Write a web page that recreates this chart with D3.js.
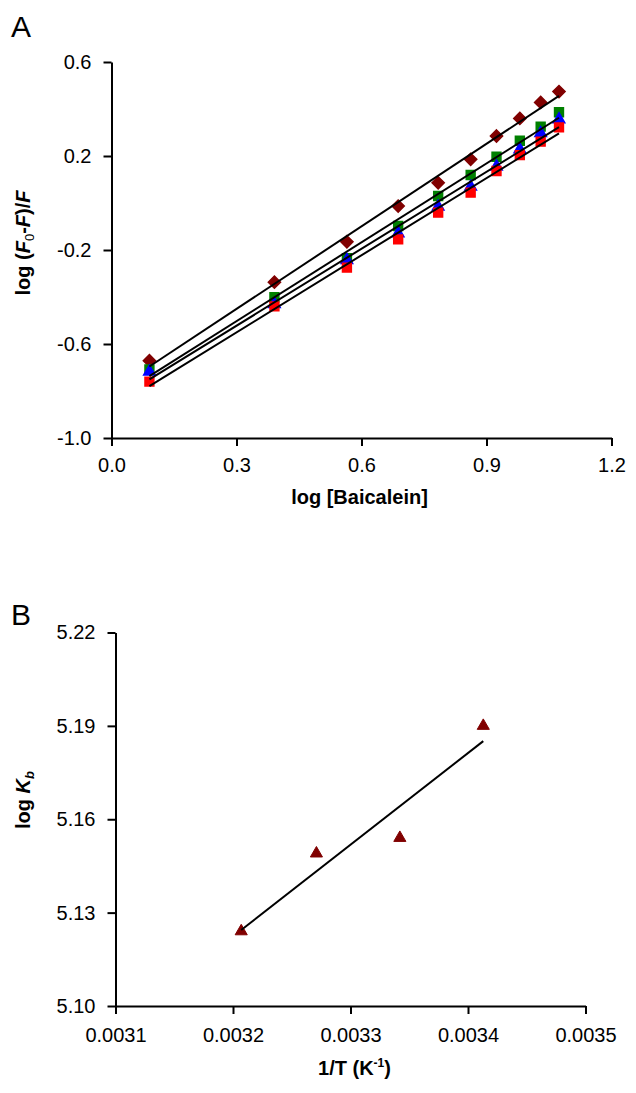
<!DOCTYPE html>
<html><head><meta charset="utf-8">
<script src="https://cdn.jsdelivr.net/npm/d3@7"></script>
<style>
html,body{margin:0;padding:0;background:#fff;}
svg{display:block;font-family:"Liberation Sans",Arial,sans-serif;}
</style></head>
<body><svg id="chart" width="636" height="1093"></svg>
<script>
// ---------- Panel A data ----------
const logBaicalein = [0.091,0.391,0.565,0.688,0.784,0.862,0.924,0.980,1.030,1.074];
const seriesDiamond = [-0.671,-0.337,-0.165,-0.013,0.086,0.186,0.285,0.360,0.428,0.474];
const seriesGreen   = [-0.708,-0.401,-0.235,-0.098,0.030,0.119,0.197,0.265,0.325,0.386];
const seriesBlue    = [-0.718,-0.430,-0.243,-0.129,-0.016,0.069,0.155,0.228,0.297,0.356];
const seriesRed     = [-0.760,-0.440,-0.275,-0.155,-0.041,0.044,0.136,0.204,0.261,0.322];
const xTicksA = [0.0,0.3,0.6,0.9,1.2];
const yTicksA = [-1.0,-0.6,-0.2,0.2,0.6];

// ---------- Panel B data ----------
const invT = [0.003207,0.003271,0.003342,0.003413];
const logKb = [5.124,5.149,5.154,5.190];
const xTicksB = [0.0031,0.0032,0.0033,0.0034,0.0035];
const yTicksB = [5.10,5.13,5.16,5.19,5.22];

const svg = d3.select("#chart");

function fit(xs, ys){
  const n = xs.length, mx = d3.mean(xs), my = d3.mean(ys);
  let sxy=0, sxx=0;
  for(let i=0;i<n;i++){sxy+=(xs[i]-mx)*(ys[i]-my); sxx+=(xs[i]-mx)**2;}
  const b = sxy/sxx, a = my-b*mx;
  const x0 = d3.min(xs), x1 = d3.max(xs);
  return [[x0,a+b*x0],[x1,a+b*x1]];
}
const fmt = p => d => d.toFixed(p);

function styleAxis(g){
  g.selectAll(".domain").attr("stroke","#000").attr("stroke-width",2);
  g.selectAll(".tick line").attr("stroke","#000").attr("stroke-width",2);
  g.selectAll(".tick text").attr("fill","#000").attr("font-size",20)
    .attr("font-family","'Liberation Sans',Arial,sans-serif");
}

// ================= Panel A =================
const xA = d3.scaleLinear().domain([0,1.2]).range([111.5,611.5]);
const yA = d3.scaleLinear().domain([-1.0,0.6]).range([438,62]);

const gxA = svg.append("g").attr("transform",`translate(0,${yA(-1.0)})`)
  .call(d3.axisBottom(xA).tickValues(xTicksA).tickFormat(fmt(1)).tickSize(8).tickSizeOuter(0).tickPadding(12));
styleAxis(gxA);
const gyA = svg.append("g").attr("transform",`translate(${xA(0)},0)`)
  .call(d3.axisLeft(yA).tickValues(yTicksA).tickFormat(fmt(1)).tickSize(8).tickSizeOuter(0).tickPadding(12));
styleAxis(gyA);

const seriesA = [
  {vals:seriesDiamond, color:"#800000", shape:"diamond"},
  {vals:seriesGreen,   color:"#008000", shape:"square"},
  {vals:seriesBlue,    color:"#0000FF", shape:"triangle"},
  {vals:seriesRed,     color:"#FF0000", shape:"square"}
];
const symType = {diamond:d3.symbolDiamond2, square:d3.symbolSquare2, triangle:d3.symbolTriangle2};
const symSize = {diamond:95, square:100, triangle:95};

seriesA.forEach(s=>{
  svg.append("g").selectAll("path").data(s.vals).join("path")
    .attr("transform",(d,i)=>`translate(${xA(logBaicalein[i])},${yA(d)})`)
    .attr("d",d3.symbol().type(symType[s.shape]).size(symSize[s.shape]))
    .attr("fill",s.color).attr("stroke",s.color).attr("stroke-width",1.5);
});
const lineA = d3.line().x(d=>xA(d[0])).y(d=>yA(d[1]));
seriesA.forEach(s=>{
  svg.append("path").attr("d",lineA(fit(logBaicalein,s.vals)))
    .attr("fill","none").attr("stroke","#000").attr("stroke-width",2);
});

// labels A
svg.append("text").attr("x",11).attr("y",37).attr("font-size",30).text("A");
svg.append("text").attr("x",(xA(0)+xA(1.2))/2-2).attr("y",504).attr("text-anchor","middle")
  .attr("font-size",20).attr("font-weight","bold").text("log [Baicalein]");
const ylabA = svg.append("text").attr("transform","translate(30,243) rotate(-90)")
  .attr("text-anchor","middle").attr("font-size",20).attr("font-weight","bold");
ylabA.append("tspan").text("log (");
ylabA.append("tspan").attr("font-style","italic").text("F");
ylabA.append("tspan").attr("font-size",13).attr("font-weight","normal").attr("dy",4).text("0");
ylabA.append("tspan").attr("dy",-4).text("-");
ylabA.append("tspan").attr("font-style","italic").text("F");
ylabA.append("tspan").text(")/");
ylabA.append("tspan").attr("font-style","italic").text("F");

// ================= Panel B =================
const xB = d3.scaleLinear().domain([0.0031,0.0035]).range([115.5,585.5]);
const yB = d3.scaleLinear().domain([5.10,5.22]).range([1006,632.5]);

const gxB = svg.append("g").attr("transform",`translate(0,${yB(5.10)})`)
  .call(d3.axisBottom(xB).tickValues(xTicksB).tickFormat(fmt(4)).tickSize(8).tickSizeOuter(0).tickPadding(14));
styleAxis(gxB);
const gyB = svg.append("g").attr("transform",`translate(${xB(0.0031)},0)`)
  .call(d3.axisLeft(yB).tickValues(yTicksB).tickFormat(fmt(2)).tickSize(8).tickSizeOuter(0).tickPadding(12));
styleAxis(gyB);

const lineB = d3.line().x(d=>xB(d[0])).y(d=>yB(d[1]));
svg.append("g").selectAll("path").data(logKb).join("path")
  .attr("transform",(d,i)=>`translate(${xB(invT[i])},${yB(d)})`)
  .attr("d",d3.symbol().type(d3.symbolTriangle2).size(105))
  .attr("fill","#800000").attr("stroke","#800000").attr("stroke-width",1);
svg.append("path").attr("d",lineB(fit(invT,logKb)))
  .attr("fill","none").attr("stroke","#000").attr("stroke-width",2);

svg.append("text").attr("x",11).attr("y",625).attr("font-size",30).text("B");
const xlabB = svg.append("text").attr("x",(xB(0.0031)+xB(0.0035))/2+4).attr("y",1075)
  .attr("text-anchor","middle").attr("font-size",20).attr("font-weight","bold");
xlabB.append("tspan").text("1/T (K");
xlabB.append("tspan").attr("font-size",12).attr("dy",-8).text("-1");
xlabB.append("tspan").attr("dy",8).text(")");
const ylabB = svg.append("text").attr("transform","translate(30,800) rotate(-90)")
  .attr("text-anchor","middle").attr("font-size",20).attr("font-weight","bold");
ylabB.append("tspan").text("log ");
ylabB.append("tspan").attr("font-style","italic").text("K");
ylabB.append("tspan").attr("font-size",13).attr("dy",4).attr("font-style","italic").text("b");
</script>
</body></html>
